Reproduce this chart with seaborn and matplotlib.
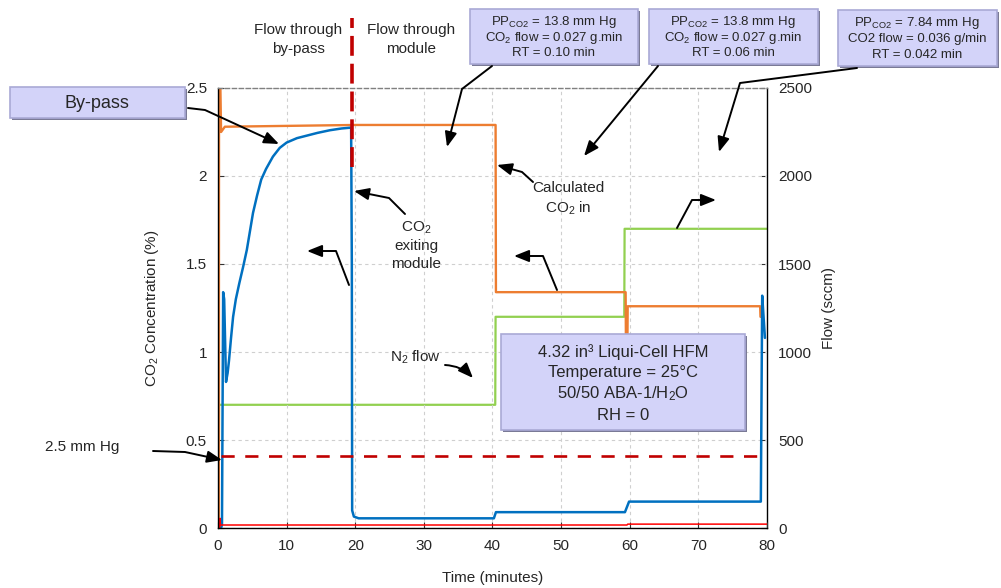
import numpy as np
import pandas as pd
import matplotlib
matplotlib.use("Agg")
import matplotlib.pyplot as plt
import seaborn as sns
from matplotlib.patches import Rectangle, FancyArrowPatch
from matplotlib.path import Path
from matplotlib.transforms import Affine2D
from matplotlib.ticker import FuncFormatter

# ---------------- data ----------------
time_co2_out = [0.45, 0.58, 0.75, 0.9, 1.17, 1.4, 1.6, 1.9, 2.2, 2.6, 3.1, 3.64, 4.2, 5.1,
                5.7, 6.3, 7.0, 8.0, 9.0, 10.0, 11.5, 13.0, 14.5, 16.3, 18.0, 19.4,
                19.5, 19.55, 19.8, 20.5, 30.0, 40.2, 40.5, 50.0,
                59.3, 59.9, 70.0, 79.1, 79.3, 79.5, 79.7]
co2_out = [0.0, 0.02, 1.34, 1.30, 0.83, 0.88, 0.95, 1.08, 1.20, 1.30, 1.39, 1.48, 1.58, 1.79,
           1.89, 1.98, 2.04, 2.11, 2.16, 2.19, 2.215, 2.23, 2.245, 2.26, 2.27, 2.275,
           1.5, 0.10, 0.065, 0.055, 0.055, 0.055, 0.09, 0.09,
           0.09, 0.15, 0.15, 0.15, 1.32, 1.2, 1.08]

time_co2_in = [0.12, 0.15, 0.35, 0.45, 1.0, 20.0, 40.45, 40.5, 59.4, 59.45, 59.65, 59.7,
               79.0, 79.05, 79.3]
co2_in = [0.0, 2.5, 2.5, 2.25, 2.28, 2.29, 2.29, 1.34, 1.34, 1.0, 1.0, 1.26,
          1.26, 1.2, 1.2]

time_n2 = [0.1, 0.15, 40.4, 40.45, 59.2, 59.25, 80.0]
n2_flow = [0.0, 700, 700, 1200, 1200, 1700, 1700]

time_base = [0.25, 0.3, 0.35, 59.6, 59.7, 80.0]
co2_base = [0.0, 0.055, 0.017, 0.017, 0.022, 0.022]

limit_time = [0.5, 80.0]
limit_conc = [0.41, 0.41]          # 2.5 mm Hg
switch_time = [19.5, 19.5]         # by-pass -> module
switch_conc = [2.05, 2.90]

x_ticks = [0, 10, 20, 30, 40, 50, 60, 70, 80]
y_ticks = [0, 0.5, 1.0, 1.5, 2.0, 2.5]
flow_ticks = [0, 500, 1000, 1500, 2000, 2500]

# ---------------- styling ----------------
sns.set_style("ticks")
plt.rcParams["font.family"] = ["Liberation Sans", "DejaVu Sans"]
plt.rcParams["mathtext.fontset"] = "custom"
plt.rcParams["mathtext.rm"] = "Liberation Sans"
plt.rcParams["mathtext.it"] = "Liberation Sans:italic"
plt.rcParams["mathtext.bf"] = "Liberation Sans:bold"

W, H = 1001, 588
fig = plt.figure(figsize=(W / 100, H / 100), dpi=100)
ax = fig.add_axes([218 / W, 1 - 528 / H, (767 - 218) / W, (528 - 88) / H])
ax2 = ax.twinx()
ax.set_zorder(ax2.get_zorder() + 1)
ax.patch.set_visible(False)

BLUE = "#0070C0"
ORANGE = "#ED7D31"
GREEN = "#92D050"
DRED = "#C00000"

df_out = pd.DataFrame({"t": time_co2_out, "c": co2_out})
df_in = pd.DataFrame({"t": time_co2_in, "c": co2_in})
df_n2 = pd.DataFrame({"t": time_n2, "f": n2_flow})
df_base = pd.DataFrame({"t": time_base, "c": co2_base})

sns.lineplot(data=df_n2, x="t", y="f", ax=ax2, color=GREEN, lw=1.6,
             estimator=None, sort=False, legend=False)
sns.lineplot(data=df_in, x="t", y="c", ax=ax, color=ORANGE, lw=1.7,
             estimator=None, sort=False, legend=False)
sns.lineplot(data=df_out, x="t", y="c", ax=ax, color=BLUE, lw=1.8,
             estimator=None, sort=False, legend=False)
sns.lineplot(data=df_base, x="t", y="c", ax=ax, color="#FF0000", lw=1.1,
             estimator=None, sort=False, legend=False)
ax.plot(limit_time, limit_conc, color=DRED, lw=1.9, dashes=(5, 4))
ax.plot(switch_time, switch_conc, color=DRED, lw=2.6, dashes=(5.5, 2.2), clip_on=False)

ax.set_xlim(0, 80)
ax.set_ylim(0, 2.5)
ax2.set_ylim(0, 2500)
ax.set_xticks(x_ticks)
ax.set_yticks(y_ticks)
ax2.set_yticks(flow_ticks)
ax.yaxis.set_major_formatter(FuncFormatter(lambda v, p: "%g" % v))

ax.grid(True, ls=(0, (3, 3)), color="#cfcfcf", lw=0.8)
ax.tick_params(direction="in", length=4, labelsize=11, pad=8, color="#333333")
ax2.tick_params(direction="in", length=4, labelsize=11, pad=8, color="#333333")

for a in (ax, ax2):
    for s in a.spines.values():
        s.set_linewidth(1.0)
ax.spines["right"].set_visible(False)
ax2.spines["left"].set_visible(False)
ax2.spines["top"].set_visible(False)
ax2.spines["bottom"].set_visible(False)
ax.spines["top"].set_linestyle((0, (3, 2)))
ax.spines["top"].set_color("#808080")
ax.spines["left"].set_color("black")
ax.spines["bottom"].set_color("black")
ax2.spines["right"].set_color("black")

ax.set_xlabel("Time (minutes)", fontsize=11, labelpad=13)
ax.set_ylabel("CO$_2$ Concentration (%)", fontsize=11, labelpad=18)
ax2.set_ylabel("Flow (sccm)", fontsize=11, labelpad=7)

# ---------------- annotations in pixel coordinates ----------------
PX = Affine2D().scale(1 / W, -1 / H).translate(0, 1) + fig.transFigure


def box(x0, y0, x1, y1):
    fig.add_artist(Rectangle((x0 + 2, y0 + 2), x1 - x0, y1 - y0, transform=PX,
                             fc="#7A7A96", ec="none", zorder=20))
    fig.add_artist(Rectangle((x0, y0), x1 - x0, y1 - y0, transform=PX,
                             fc="#D3D3F9", ec="#A9A9D6", lw=1.2, zorder=21))


def txt(x, y, s, size=11, **kw):
    fig.text(x, y, s, transform=PX, ha="center", va="center", fontsize=size,
             zorder=25, **kw)


def arrow(points):
    fig.add_artist(FancyArrowPatch(path=Path(points), transform=PX,
                                   arrowstyle="-|>,head_length=0.5,head_width=0.2",
                                   mutation_scale=18, color="black", lw=1.4, zorder=24))


# header texts
txt(298, 30, "Flow through", 11)
txt(298, 49, "by-pass", 11)
txt(411, 30, "Flow through", 11)
txt(411, 49, "module", 11)

# parameter boxes
box(470, 9, 638, 64)
txt(554, 22, "PP$_{\\mathrm{CO2}}$ = 13.8 mm Hg", 9.5)
txt(554, 38, "CO$_2$ flow = 0.027 g.min", 9.5)
txt(554, 53, "RT = 0.10 min", 9.5)

box(649, 9, 818, 64)
txt(733, 22, "PP$_{\\mathrm{CO2}}$ = 13.8 mm Hg", 9.5)
txt(733, 38, "CO$_2$ flow = 0.027 g.min", 9.5)
txt(733, 53, "RT = 0.06 min", 9.5)

box(838, 10, 997, 66)
txt(917, 23, "PP$_{\\mathrm{CO2}}$ = 7.84 mm Hg", 9.5)
txt(917, 39, "CO2 flow = 0.036 g/min", 9.5)
txt(917, 55, "RT = 0.042 min", 9.5)

box(10, 87, 185, 118)
txt(97, 103, "By-pass", 13)

box(501, 334, 745, 430)
txt(623, 352, "4.32 in\u00b3 Liqui-Cell HFM", 12)
txt(623, 373, "Temperature = 25\u00b0C", 12)
txt(623, 394, "50/50 ABA-1/H$_2$O", 12)
txt(623, 415, "RH = 0", 12)

# free labels
txt(568, 188, "Calculated", 11)
txt(568, 208, "CO$_2$ in", 11)
txt(416, 228, "CO$_2$", 11)
txt(416, 246, "exiting", 11)
txt(416, 264, "module", 11)
txt(415, 357, "N$_2$ flow", 11)
txt(82, 447, "2.5 mm Hg", 11)

# arrows
arrow([(188, 108), (205, 110), (279, 144)])
arrow([(492, 66), (462, 89), (447, 147)])
arrow([(658, 66), (584, 156)])
arrow([(857, 68), (740, 83), (719, 152)])
arrow([(533, 182), (522, 172), (497, 165)])
arrow([(557, 290), (543, 256), (514, 256)])
arrow([(677, 228), (692, 200), (716, 200)])
arrow([(405, 214), (389, 198), (354, 191)])
arrow([(349, 285), (336, 251), (307, 251)])
arrow([(153, 451), (185, 452), (222, 460)])
fig.add_artist(FancyArrowPatch((445, 365), (473, 378), transform=PX,
                               connectionstyle="arc3,rad=-0.2",
                               arrowstyle="-|>,head_length=0.5,head_width=0.2",
                               mutation_scale=18, color="black", lw=1.4, zorder=24,
                               shrinkA=0, shrinkB=0))

fig.savefig("out.png", dpi=100)
